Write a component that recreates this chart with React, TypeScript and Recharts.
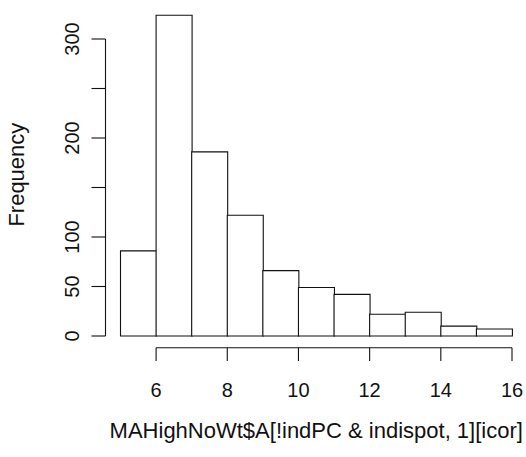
import React from 'react';
import { BarChart, Bar, XAxis, YAxis, Label } from 'recharts';

// ---- data ----
const binStarts = [5, 6, 7, 8, 9, 10, 11, 12, 13, 14, 15];
const binWidth = 1;
const counts = [86, 324, 186, 122, 66, 49, 42, 22, 24, 10, 7];
const xTicks = [6, 8, 10, 12, 14, 16];
const yTicks = [0, 50, 100, 150, 200, 250, 300];
const yTickLabels = [0, 50, 100, 200, 300]; // labels R kept (150 and 250 dropped for overlap)
const xTitle = 'MAHighNoWt$A[!indPC & indispot, 1][icor]';
const yTitle = 'Frequency';

const data = binStarts.map((s, i) => ({ mid: s + binWidth / 2, count: counts[i] }));

// ---- layout ----
const W = 526;
const H = 457;
const PLOT_LEFT = 120.5;
const PLOT_RIGHT = 512;
const PLOT_TOP = 9.3;
const PLOT_BOTTOM = 336;
const X_MIN = 5;
const X_MAX = 16;
const Y_MAX = 330;
const PX_X = (PLOT_RIGHT - PLOT_LEFT) / (X_MAX - X_MIN);
const PX_Y = (PLOT_BOTTOM - PLOT_TOP) / Y_MAX;
const INK = '#111';
const FONT = '"Liberation Sans", Arial, sans-serif';

const XTick = (props: any) => {
  const { x, y, payload } = props;
  const v = payload.value;
  const axisY = y + 11.7;
  return (
    <g>
      {v === xTicks[0] && (
        <line x1={x} x2={x + (xTicks[xTicks.length - 1] - v) * PX_X} y1={axisY} y2={axisY} stroke={INK} strokeWidth={1.1} />
      )}
      <line x1={x} x2={x} y1={axisY} y2={axisY + 13.3} stroke={INK} strokeWidth={1.1} />
      <text x={x} y={y + 60.5} textAnchor="middle" fontSize={20} fontFamily={FONT} fill={INK}>
        {v}
      </text>
    </g>
  );
};

const YTick = (props: any) => {
  const { x, y, payload } = props;
  const v = payload.value;
  const axisX = x - 15;
  return (
    <g>
      {v === yTicks[0] && (
        <line x1={axisX} x2={axisX} y1={y} y2={y - (yTicks[yTicks.length - 1] - v) * PX_Y} stroke={INK} strokeWidth={1.1} />
      )}
      <line x1={axisX - 14} x2={axisX} y1={y} y2={y} stroke={INK} strokeWidth={1.1} />
      {yTickLabels.includes(v) && (
        <text
          transform={`translate(${x - 41.5},${y}) rotate(-90)`}
          textAnchor="middle"
          fontSize={20}
          fontFamily={FONT}
          fill={INK}
        >
          {v}
        </text>
      )}
    </g>
  );
};

export default function App() {
  return (
    <div style={{ position: 'absolute', left: 0, top: 0, width: W, height: H, background: '#fff' }}>
      <BarChart
        width={W}
        height={H}
        data={data}
        margin={{ top: PLOT_TOP, right: W - PLOT_RIGHT, bottom: 0, left: 0 }}
        barCategoryGap={0}
        barGap={0}
      >
        <XAxis
          dataKey="mid"
          type="number"
          domain={[X_MIN, X_MAX]}
          ticks={xTicks}
          interval={0}
          height={H - PLOT_BOTTOM}
          axisLine={false}
          tickLine={false}
          tickSize={0}
          tickMargin={0}
          tick={<XTick />}
        >
          <Label
            content={(p: any) => {
              const vb = p.viewBox || { x: PLOT_LEFT, y: PLOT_BOTTOM, width: PLOT_RIGHT - PLOT_LEFT };
              return (
                <text x={vb.x + vb.width / 2} y={vb.y + 102} textAnchor="middle" fontSize={22} fontFamily={FONT} fill={INK}>
                  {xTitle}
                </text>
              );
            }}
          />
        </XAxis>
        <YAxis
          type="number"
          domain={[0, Y_MAX]}
          ticks={yTicks}
          interval={0}
          width={PLOT_LEFT}
          axisLine={false}
          tickLine={false}
          tickSize={0}
          tickMargin={0}
          tick={<YTick />}
        >
          <Label
            content={(p: any) => {
              const vb = p.viewBox || { x: 0, y: PLOT_TOP, height: PLOT_BOTTOM - PLOT_TOP };
              return (
                <text
                  transform={`translate(24,${vb.y + vb.height / 2 + 2}) rotate(-90)`}
                  textAnchor="middle"
                  fontSize={22}
                  fontFamily={FONT}
                  fill={INK}
                >
                  {yTitle}
                </text>
              );
            }}
          />
        </YAxis>
        <Bar dataKey="count" fill="#fff" stroke={INK} strokeWidth={1.1} isAnimationActive={false} />
      </BarChart>
    </div>
  );
}
